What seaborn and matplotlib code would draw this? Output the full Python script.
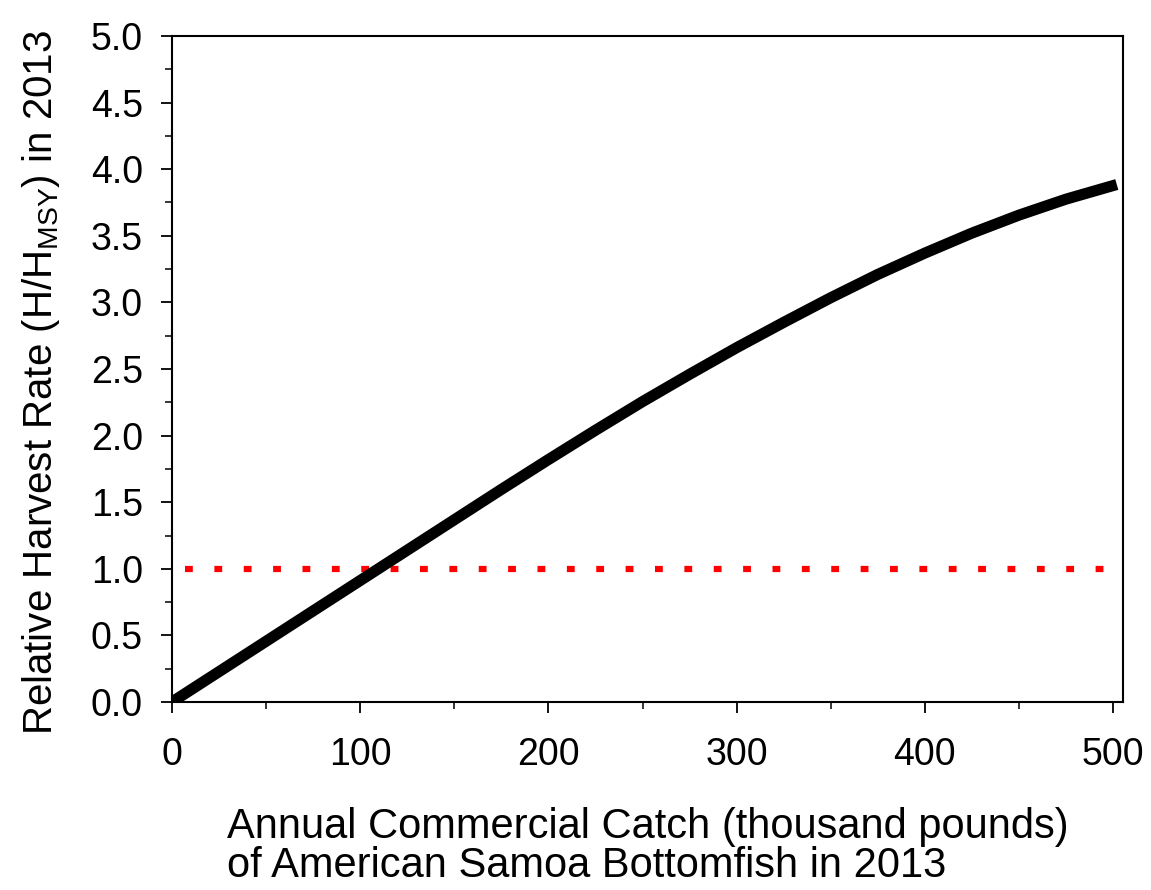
import matplotlib
matplotlib.use("Agg")
import matplotlib.pyplot as plt
from matplotlib.ticker import MultipleLocator
import seaborn as sns
import pandas as pd

# Data
catch = [0, 25, 50, 75, 100, 125, 150, 175, 200, 225, 250, 275, 300, 325,
         350, 375, 400, 425, 450, 475, 502]
harvest_rate = [0.0, 0.228, 0.456, 0.684, 0.912, 1.14, 1.368, 1.596, 1.82, 2.04,
                2.255, 2.46, 2.66, 2.85, 3.035, 3.21, 3.37, 3.52, 3.655, 3.775, 3.885]
ref_x = [7, 505.3]
ref_y = [1.0, 1.0]

x_ticks = [0, 100, 200, 300, 400, 500]
y_ticks = [0.0, 0.5, 1.0, 1.5, 2.0, 2.5, 3.0, 3.5, 4.0, 4.5, 5.0]

sns.set_style("ticks")
plt.rcParams['font.family'] = ['Liberation Sans', 'DejaVu Sans']
plt.rcParams['mathtext.fontset'] = 'custom'
plt.rcParams['mathtext.rm'] = 'Liberation Sans'
plt.rcParams['mathtext.it'] = 'Liberation Sans'
plt.rcParams['text.color'] = 'black'
plt.rcParams['axes.labelcolor'] = 'black'

df = pd.DataFrame({"catch": catch, "rate": harvest_rate})
ref = pd.DataFrame({"x": ref_x, "y": ref_y})

fig = plt.figure(figsize=(11.51, 8.90), dpi=100)
ax = fig.add_axes([172/1151, 1-702/890, (1123-172)/1151, (702-36)/890])

sns.lineplot(data=ref, x="x", y="y", ax=ax, color="#ff0000", linewidth=4.5)
ax.lines[-1].set_dashes((1.25, 3.45))
ax.lines[-1].set_dash_capstyle('butt')
sns.lineplot(data=df, x="catch", y="rate", ax=ax, color="black", linewidth=8)
ax.lines[-1].set_solid_joinstyle('round')
ax.lines[-1].set_solid_capstyle('butt')

ax.set_xlim(0, 505.3)
ax.set_ylim(0, 5.0)
ax.set_xticks(x_ticks)
ax.set_yticks(y_ticks)
ax.set_yticklabels([f"{v:.1f}" for v in y_ticks])
ax.xaxis.set_minor_locator(MultipleLocator(50))
ax.yaxis.set_minor_locator(MultipleLocator(0.25))

for s in ax.spines.values():
    s.set_visible(True)
    s.set_linewidth(1.5)
    s.set_color("black")

ax.tick_params(axis='both', which='major', direction='out', length=8, width=1.3,
               labelsize=27, colors='black')
ax.tick_params(axis='x', which='major', pad=17)
ax.tick_params(axis='y', which='major', pad=13)
ax.tick_params(axis='both', which='minor', direction='out', length=5, width=1.3)

ax.set_xlabel("Annual Commercial Catch (thousand pounds)\nof American Samoa Bottomfish in 2013",
              fontsize=30, multialignment='left', labelpad=25, linespacing=0.95)
ax.set_ylabel(r"Relative Harvest Rate (H/H$_{\mathregular{MSY}}$) in 2013",
              fontsize=29)
ax.yaxis.set_label_coords(-0.116, 0.48)

fig.savefig("out.png", dpi=100)
